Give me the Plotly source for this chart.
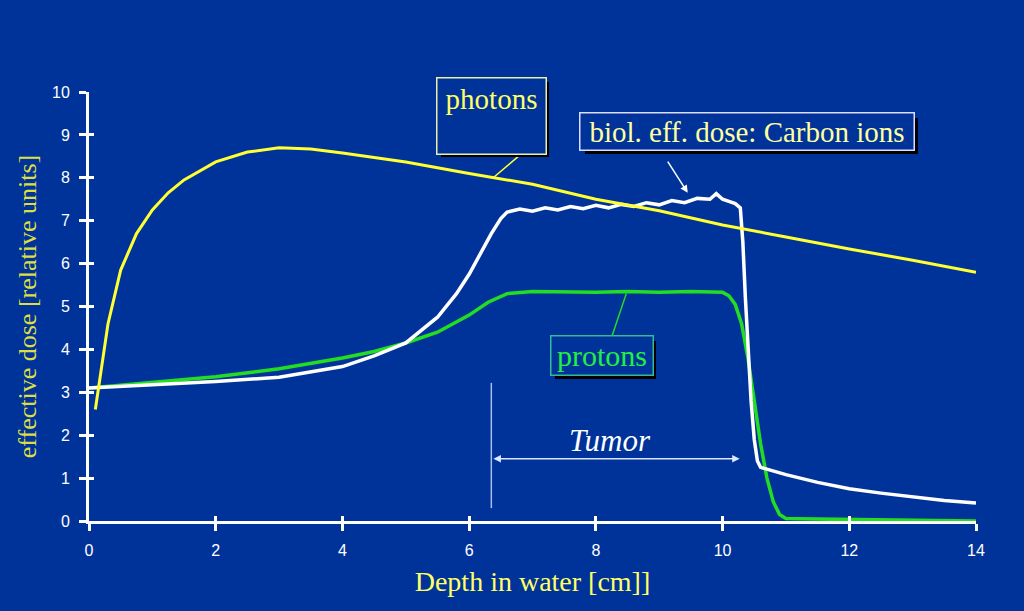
import plotly.graph_objects as go

# ---- data ----
photon_x = [0.1, 0.3, 0.5, 0.75, 1.0, 1.25, 1.5, 2.0, 2.5, 3.0, 3.5, 4.0, 5.0, 6.0, 7.0, 8.0, 9.0, 10.0, 11.0, 12.0, 13.0, 14.0]
photon_y = [2.6, 4.6, 5.85, 6.7, 7.25, 7.65, 7.95, 8.37, 8.6, 8.7, 8.67, 8.58, 8.37, 8.1, 7.85, 7.5, 7.23, 6.9, 6.62, 6.34, 6.08, 5.8]

carbon_x = [0.0, 1.0, 2.0, 3.0, 4.0, 4.5, 5.0, 5.5, 5.8, 6.0, 6.2, 6.35, 6.5, 6.6, 6.8, 7.0, 7.2, 7.4, 7.6, 7.8, 8.0, 8.2, 8.4, 8.6, 8.8, 9.0, 9.2, 9.4, 9.6, 9.8, 9.9, 10.0, 10.1, 10.2, 10.28, 10.32, 10.36, 10.4, 10.45, 10.5, 10.55, 10.6, 11.0, 11.5, 12.0, 12.5, 13.0, 13.5, 14.0]
carbon_y = [3.1, 3.17, 3.25, 3.35, 3.6, 3.85, 4.15, 4.75, 5.3, 5.75, 6.3, 6.7, 7.05, 7.2, 7.27, 7.22, 7.3, 7.25, 7.33, 7.28, 7.36, 7.3, 7.38, 7.33, 7.42, 7.37, 7.47, 7.42, 7.52, 7.5, 7.63, 7.5, 7.45, 7.4, 7.3, 6.5, 5.2, 4.0, 2.8, 1.9, 1.4, 1.25, 1.08, 0.9, 0.75, 0.65, 0.56, 0.48, 0.42]

proton_x = [0.0, 1.0, 2.0, 3.0, 4.0, 4.5, 5.0, 5.5, 6.0, 6.3, 6.6, 7.0, 8.0, 8.5, 9.0, 9.5, 10.0, 10.1, 10.2, 10.3, 10.4, 10.5, 10.6, 10.7, 10.8, 10.9, 11.0, 11.2, 14.0]
proton_y = [3.1, 3.22, 3.36, 3.55, 3.8, 3.95, 4.15, 4.4, 4.8, 5.1, 5.3, 5.35, 5.33, 5.35, 5.33, 5.35, 5.33, 5.25, 5.05, 4.6, 3.8, 2.8, 1.8, 1.0, 0.45, 0.15, 0.06, 0.05, 0.0]

x_ticks = [0, 2, 4, 6, 8, 10, 12, 14]
y_ticks = [0, 1, 2, 3, 4, 5, 6, 7, 8, 9, 10]

BG = "#003399"

fig = go.Figure()
fig.add_trace(go.Scatter(x=proton_x, y=proton_y, mode="lines",
                         line=dict(color="#22dd22", width=3.5), showlegend=False, cliponaxis=False))
fig.add_trace(go.Scatter(x=carbon_x, y=carbon_y, mode="lines",
                         line=dict(color="#ffffff", width=3.5), showlegend=False, cliponaxis=False))
fig.add_trace(go.Scatter(x=photon_x, y=photon_y, mode="lines",
                         line=dict(color="#ffff33", width=3), showlegend=False, cliponaxis=False))
# invisible trace to hold the overlay axes (inner half of crossing ticks)
fig.add_trace(go.Scatter(x=[0], y=[0], xaxis="x2", yaxis="y2", mode="markers",
                         marker=dict(opacity=0), showlegend=False, hoverinfo="skip"))

tickfont = dict(family="Liberation Sans, Arial", size=16, color="white")
fig.update_layout(
    width=1024, height=611,
    margin=dict(l=89, r=48, t=92, b=90),
    paper_bgcolor=BG, plot_bgcolor=BG,
    xaxis=dict(range=[0, 14], tickvals=x_ticks, ticks="outside", ticklen=7, tickwidth=3,
               tickcolor="white", showline=True, linecolor="white", linewidth=3,
               showgrid=False, zeroline=False, tickfont=tickfont, ticklabelstandoff=6,
               title=dict(text="Depth in water [cm]]", standoff=14,
                          font=dict(family="Liberation Serif, Times New Roman", size=28, color="#ffff66"))),
    yaxis=dict(range=[0, 10], tickvals=y_ticks, ticks="outside", ticklen=7, tickwidth=3,
               tickcolor="white", showline=True, linecolor="white", linewidth=3,
               showgrid=False, zeroline=False, tickfont=tickfont, ticklabelstandoff=6,
               title=dict(text="effective dose [relative units]", standoff=8,
                          font=dict(family="Liberation Serif, Times New Roman", size=26, color="#dede44"))),
    xaxis2=dict(range=[0, 14], overlaying="x", tickvals=x_ticks, ticks="inside", ticklen=5,
                tickwidth=3, tickcolor="white", showticklabels=False, showgrid=False,
                zeroline=False, showline=False, side="bottom"),
    yaxis2=dict(range=[0, 10], overlaying="y", tickvals=y_ticks, ticks="inside", ticklen=5,
                tickwidth=3, tickcolor="white", showticklabels=False, showgrid=False,
                zeroline=False, showline=False, side="left"),
)

serif = "Liberation Serif, Times New Roman"
ann = []

def box(x, y, text, w, h, color, border, size, valign="middle", pad=2):
    # shadow
    ann.append(dict(x=x, y=y, xref="x", yref="y", text="", showarrow=False,
                    width=w, height=h, bgcolor="black", borderwidth=0,
                    xshift=4, yshift=-4, borderpad=pad))
    ann.append(dict(x=x, y=y, xref="x", yref="y", text=text, showarrow=False,
                    width=w, height=h, bgcolor=BG, bordercolor=border, borderwidth=1.5,
                    valign=valign, borderpad=pad,
                    font=dict(family=serif, size=size, color=color)))

# pointer lines
ann.append(dict(x=6.38, y=8.0, ax=6.80, ay=8.53, xref="x", yref="y", axref="x", ayref="y",
                text="", showarrow=True, arrowhead=0, arrowwidth=1.5, arrowcolor="#ffff33"))
ann.append(dict(x=9.45, y=7.65, ax=9.12, ay=8.41, xref="x", yref="y", axref="x", ayref="y",
                text="", showarrow=True, arrowhead=2, arrowsize=1, arrowwidth=1.5, arrowcolor="white"))
ann.append(dict(x=8.48, y=5.3, ax=8.25, ay=4.29, xref="x", yref="y", axref="x", ayref="y",
                text="", showarrow=True, arrowhead=0, arrowwidth=1.5, arrowcolor="#22dd22"))

box(6.345, 9.45, "photons", 100, 67, "#ffff66", "#eeeeaa", 29, valign="top", pad=4)
box(10.39, 9.07, "biol. eff. dose: Carbon ions", 329, 32, "#ffffa0", "#ddddff", 29)
box(8.09, 3.85, "protons", 97, 34, "#22ee44", "#33bb99", 30)

# tumor
ann.append(dict(x=10.27, y=1.45, ax=6.36, ay=1.45, xref="x", yref="y", axref="x", ayref="y",
                text="", showarrow=True, arrowhead=2, startarrowhead=2, arrowside="end+start",
                arrowsize=1, arrowwidth=1.5, arrowcolor="#dde6ff"))
ann.append(dict(x=8.22, y=1.88, xref="x", yref="y", text="<i>Tumor</i>", showarrow=False,
                font=dict(family=serif, size=31, color="white")))

fig.update_layout(annotations=ann,
                  shapes=[dict(type="line", xref="x", yref="y", x0=6.35, x1=6.35, y0=0.3, y1=3.22,
                               line=dict(color="#aabbee", width=1.5))])

fig.write_html("out.html")
